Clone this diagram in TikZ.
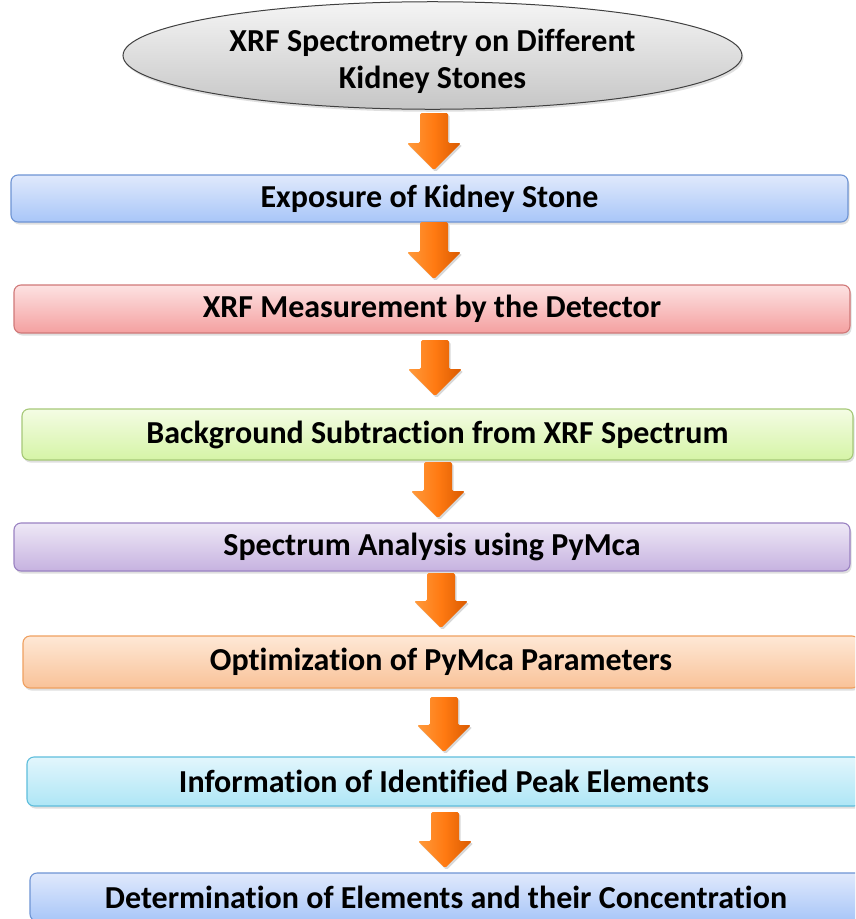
\documentclass[tikz,border=0pt]{standalone}
\usepackage{fontspec}
\setmainfont{Carlito}[Ligatures={NoCommon}]
\usetikzlibrary{shapes.geometric,shadows}
\definecolor{bluetop}{HTML}{E0E9FC}\definecolor{bluebot}{HTML}{A8C6F8}\definecolor{blueln}{HTML}{6E94D4}
\definecolor{redtop}{HTML}{FDE2E2}\definecolor{redbot}{HTML}{F4A0A0}\definecolor{redln}{HTML}{D07878}
\definecolor{greentop}{HTML}{F4FCE4}\definecolor{greenbot}{HTML}{D5F4A6}\definecolor{greenln}{HTML}{A6C878}
\definecolor{purptop}{HTML}{EEE8F6}\definecolor{purpbot}{HTML}{C6B2E0}\definecolor{purpln}{HTML}{9A82C2}
\definecolor{orgtop}{HTML}{FEE8D6}\definecolor{orgbot}{HTML}{F9C298}\definecolor{orgln}{HTML}{EFA060}
\definecolor{cyantop}{HTML}{E2F6FC}\definecolor{cyanbot}{HTML}{AEE6F6}\definecolor{cyanln}{HTML}{5EBEDC}
\definecolor{arrL}{HTML}{FF9A3C}\definecolor{arrM}{HTML}{FF7A12}\definecolor{arrR}{HTML}{D95A00}
\newcommand\blockarrow[3]{%
  \path[arrowshape] (#1-14,#2) -- (#1+14,#2) -- (#1+14,#3-27) -- (#1+27,#3-27) -- (#1,#3) -- (#1-27,#3-27) -- (#1-14,#3-27) -- cycle;}
\begin{document}
\begin{tikzpicture}[x=1pt,y=-1pt,
  txt/.style={font=\fontsize{32}{35}\selectfont\bfseries, text=black},
  stepbox/.style n args={3}{txt, rectangle, rounded corners=7pt, inner sep=0pt,
    top color=#1, bottom color=#2, draw=#3, line width=1.1pt,
    drop shadow={opacity=0.25, shadow xshift=1.5pt, shadow yshift=-2.5pt}},
  arrowshape/.style={left color=arrL, right color=arrR, middle color=arrM, rounded corners=1.5pt,
    drop shadow={opacity=0.3, shadow xshift=1.5pt, shadow yshift=-2pt}}]
\clip (0,0) rectangle (855,919);
\fill[white] (0,0) rectangle (855,919);
\node[txt, font=\fontsize{32}{37}\selectfont\bfseries, ellipse, minimum width=619pt, minimum height=105pt, inner sep=0pt,
  top color=gray!8, bottom color=gray!45, draw=black!75, line width=1pt, align=center,
  drop shadow={opacity=0.25, shadow xshift=1.5pt, shadow yshift=-2.5pt}]
  (e) at (432.5,55.5) {\rule{0pt}{34pt}XRF Spectrometry on Different\\Kidney Stones};
\node[stepbox={bluetop}{bluebot}{blueln}, minimum width=837pt, minimum height=47pt] (b1) at (429.5,198.5) {Exposure of Kidney Stone};
\node[stepbox={redtop}{redbot}{redln}, minimum width=836pt, minimum height=48pt] (b2) at (432,309) {XRF Measurement by the Detector};
\node[stepbox={greentop}{greenbot}{greenln}, minimum width=831pt, minimum height=51pt] (b3) at (437.5,434.5) {Background Subtraction from XRF Spectrum};
\node[stepbox={purptop}{purpbot}{purpln}, minimum width=836pt, minimum height=48pt] (b4) at (432,547) {Spectrum Analysis using PyMca};
\node[stepbox={orgtop}{orgbot}{orgln}, minimum width=836pt, minimum height=52pt] (b5) at (441,662) {Optimization of PyMca Parameters};
\node[stepbox={cyantop}{cyanbot}{cyanln}, minimum width=834pt, minimum height=49pt] (b6) at (444,781.5) {Information of Identified Peak Elements};
\node[stepbox={bluetop}{bluebot}{blueln}, minimum width=832pt, minimum height=48pt] (b7) at (446,897) {Determination of Elements and their Concentration};
\blockarrow{434}{113}{170}
\blockarrow{434}{222}{279}
\blockarrow{435}{340}{396}
\blockarrow{438}{462}{518}
\blockarrow{441}{573}{628}
\blockarrow{444}{697}{752}
\blockarrow{445}{812}{868}
\end{tikzpicture}
\end{document}
